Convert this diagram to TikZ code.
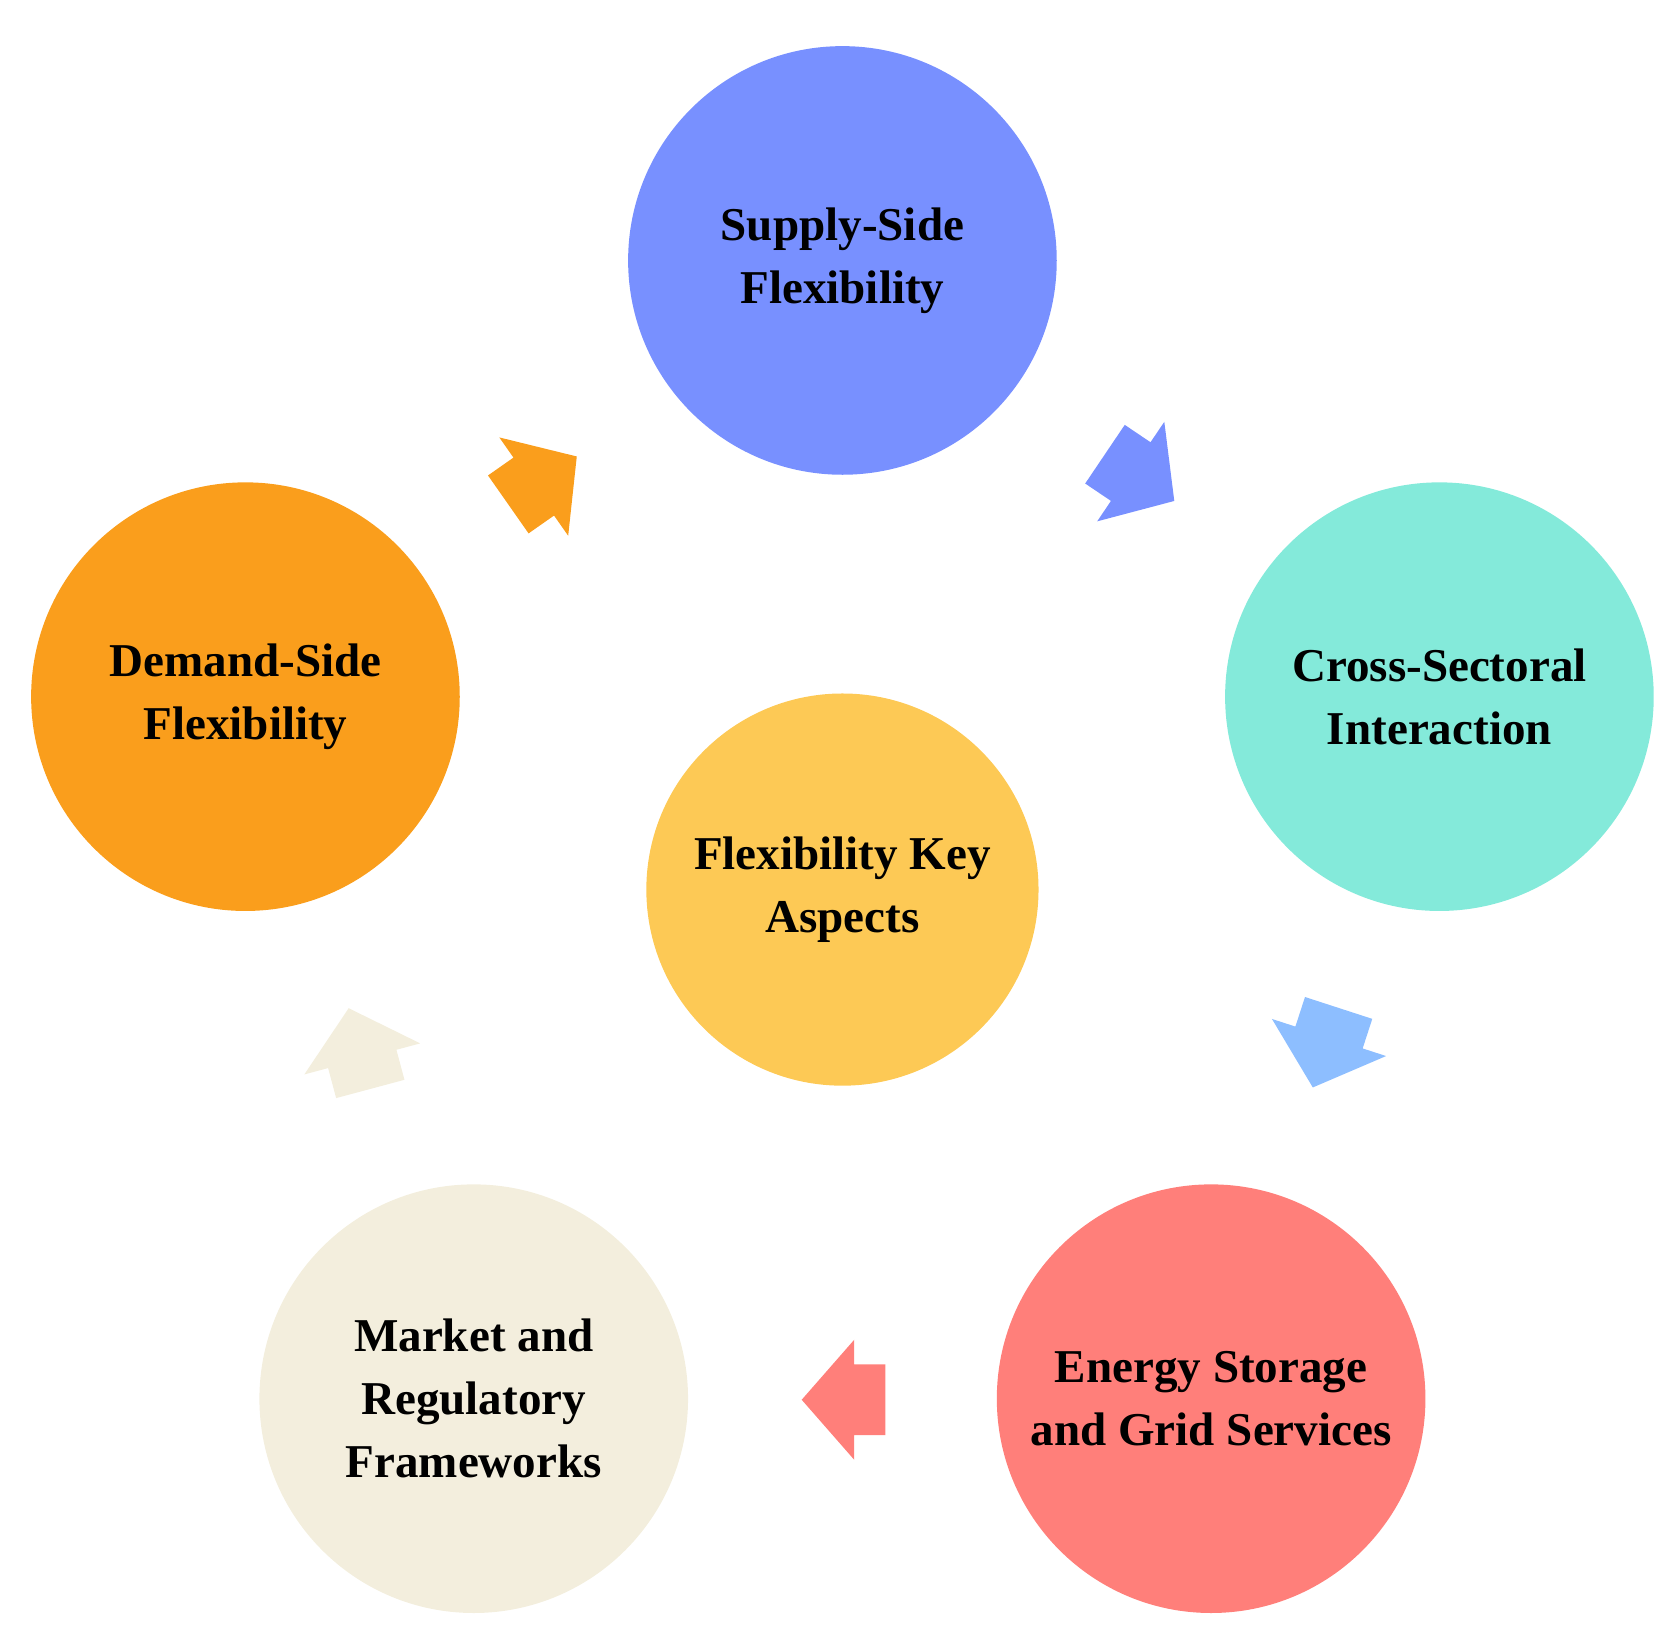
\documentclass[tikz,border=0pt]{standalone}
\usepackage{fontspec}
\setmainfont{Liberation Serif}
\begin{document}
\begin{tikzpicture}[x=0.02cm,y=-0.02cm,
  circ/.style={circle,draw=none,minimum size=8cm,inner sep=0pt,align=center,
    font=\bfseries\fontsize{25}{33.5}\selectfont},
  barrow/.style={draw=none}]
\definecolor{cSup}{HTML}{7890FF}
\definecolor{cCro}{HTML}{84EADA}
\definecolor{cEne}{HTML}{FF7F7A}
\definecolor{cMar}{HTML}{F3EEDD}
\definecolor{cDem}{HTML}{FA9E1C}
\definecolor{cKey}{HTML}{FDC955}
\definecolor{cLbl}{HTML}{8DBEFF}
\useasboundingbox (0,0) rectangle (1560,1530);
\node[circ,fill=cSup] (sup) at (786,243) {Supply-Side\\Flexibility};
\node[circ,fill=cCro] (cro) at (1343,650) {Cross-Sectoral\\Interaction};
\node[circ,fill=cEne] (ene) at (1130,1305) {Energy Storage\\and Grid Services};
\node[circ,fill=cMar] (mar) at (442,1305) {Market and\\Regulatory\\Frameworks};
\node[circ,fill=cDem] (dem) at (229,650) {Demand-Side\\Flexibility};
\node[circ,fill=cKey,minimum size=7.32cm] (key) at (786,830) {Flexibility Key\\Aspects};
\newcommand\blkarrow[3]{%
  \fill[#1,shift={(#2)},rotate=#3] (49,0) -- (0,56) -- (0,33) -- (-29,33) -- (-29,-33) -- (0,-33) -- (0,-56) -- cycle;}
\blkarrow{cSup}{1055,440}{-34}
\blkarrow{cLbl}{1240,968}{-108}
\blkarrow{cEne}{797,1306}{180}
\blkarrow{cMar}{338,988}{105}
\blkarrow{cDem}{498,454}{35}
\end{tikzpicture}
\end{document}
